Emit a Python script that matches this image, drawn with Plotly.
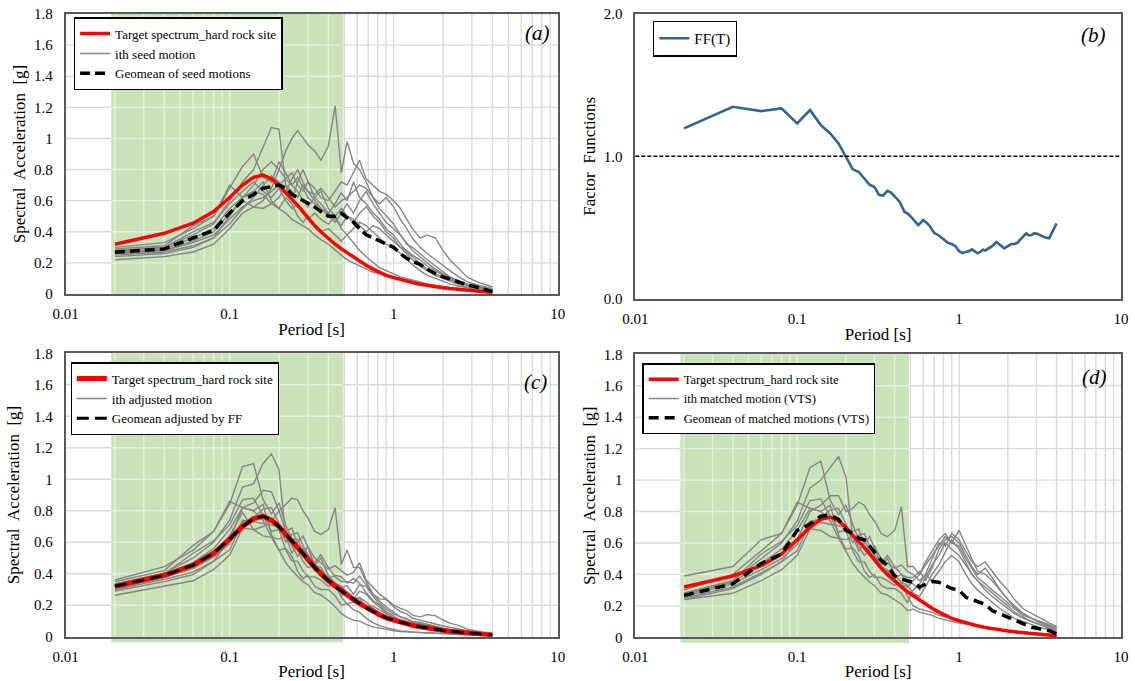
import plotly.graph_objects as go

# ---------------- data ----------------
PERIODS = [0.02, 0.04, 0.06, 0.08, 0.10, 0.12, 0.14, 0.16, 0.18, 0.20,
           0.22, 0.24, 0.26, 0.28, 0.30, 0.33, 0.36, 0.40, 0.44, 0.48,
           0.52, 0.57, 0.62, 0.68, 0.75, 0.82, 0.90, 1.0, 1.1, 1.2,
           1.3, 1.45, 1.6, 1.8, 2.0, 2.2, 2.5, 2.8, 3.2, 3.6, 4.0]

TARGET = [0.32, 0.39, 0.455, 0.53, 0.62, 0.70, 0.75, 0.765, 0.74, 0.70,
          0.65, 0.61, 0.57, 0.53, 0.49, 0.44, 0.40, 0.355, 0.32, 0.29,
          0.265, 0.235, 0.21, 0.185, 0.16, 0.14, 0.12, 0.105, 0.092, 0.082,
          0.073, 0.063, 0.055, 0.047, 0.04, 0.035, 0.03, 0.025, 0.02, 0.015, 0.01]

SEED_MOTIONS = [
    [0.24, 0.26, 0.30, 0.36, 0.50, 0.62, 0.70, 0.80, 0.85, 0.80, 0.92, 1.00, 1.05, 1.00, 0.96, 0.92, 0.86, 0.95, 1.21, 0.78,
     0.98, 0.84, 0.80, 0.72, 0.62, 0.55, 0.50, 0.45, 0.38, 0.33, 0.28, 0.24, 0.20, 0.16, 0.13, 0.11, 0.08, 0.06, 0.05, 0.04, 0.03],
    [0.28, 0.30, 0.38, 0.45, 0.60, 0.72, 0.80, 0.95, 1.07, 1.06, 0.70, 0.60, 0.72, 0.80, 0.72, 0.62, 0.66, 0.55, 0.50, 0.42,
     0.38, 0.33, 0.28, 0.24, 0.20, 0.17, 0.15, 0.13, 0.11, 0.10, 0.09, 0.075, 0.065, 0.055, 0.045, 0.04, 0.032, 0.027, 0.022, 0.018, 0.014],
    [0.30, 0.33, 0.42, 0.50, 0.68, 0.82, 0.90, 0.75, 0.72, 0.85, 0.78, 0.70, 0.75, 0.68, 0.62, 0.58, 0.55, 0.52, 0.58, 0.65,
     0.60, 0.72, 0.62, 0.58, 0.52, 0.48, 0.42, 0.38, 0.32, 0.27, 0.24, 0.20, 0.16, 0.13, 0.11, 0.09, 0.07, 0.055, 0.045, 0.035, 0.025],
    [0.26, 0.28, 0.33, 0.38, 0.48, 0.56, 0.60, 0.62, 0.66, 0.70, 0.74, 0.78, 0.70, 0.66, 0.72, 0.68, 0.62, 0.60, 0.66, 0.72,
     0.70, 0.78, 0.86, 0.74, 0.70, 0.66, 0.64, 0.60, 0.55, 0.48, 0.42, 0.36, 0.38, 0.36, 0.28, 0.22, 0.16, 0.11, 0.08, 0.06, 0.045],
    [0.27, 0.29, 0.36, 0.42, 0.55, 0.62, 0.66, 0.64, 0.58, 0.62, 0.70, 0.66, 0.62, 0.70, 0.66, 0.64, 0.68, 0.62, 0.56, 0.60,
     0.62, 0.66, 0.70, 0.68, 0.62, 0.58, 0.62, 0.56, 0.48, 0.42, 0.36, 0.30, 0.26, 0.22, 0.18, 0.15, 0.11, 0.08, 0.06, 0.045, 0.035],
    [0.22, 0.24, 0.27, 0.32, 0.42, 0.52, 0.56, 0.55, 0.58, 0.55, 0.52, 0.48, 0.46, 0.44, 0.42, 0.38, 0.35, 0.32, 0.28, 0.25,
     0.22, 0.20, 0.18, 0.16, 0.14, 0.13, 0.12, 0.11, 0.10, 0.09, 0.08, 0.07, 0.06, 0.05, 0.045, 0.04, 0.033, 0.027, 0.022, 0.018, 0.015],
    [0.29, 0.31, 0.44, 0.50, 0.70, 0.62, 0.66, 0.72, 0.60, 0.55, 0.62, 0.58, 0.50, 0.46, 0.50, 0.44, 0.40, 0.42, 0.38, 0.34,
     0.38, 0.42, 0.46, 0.44, 0.40, 0.36, 0.32, 0.30, 0.26, 0.22, 0.19, 0.15, 0.12, 0.10, 0.08, 0.065, 0.05, 0.04, 0.03, 0.025, 0.02],
    [0.25, 0.27, 0.31, 0.36, 0.45, 0.55, 0.62, 0.70, 0.76, 0.72, 0.66, 0.74, 0.80, 0.72, 0.66, 0.60, 0.55, 0.50, 0.46, 0.52,
     0.58, 0.52, 0.60, 0.66, 0.58, 0.52, 0.46, 0.42, 0.38, 0.32, 0.30, 0.26, 0.22, 0.18, 0.14, 0.11, 0.085, 0.065, 0.05, 0.04, 0.03],
    [0.28, 0.30, 0.40, 0.46, 0.58, 0.66, 0.72, 0.66, 0.62, 0.68, 0.60, 0.55, 0.58, 0.52, 0.48, 0.52, 0.48, 0.45, 0.50, 0.55,
     0.50, 0.46, 0.52, 0.56, 0.50, 0.46, 0.40, 0.36, 0.30, 0.26, 0.22, 0.18, 0.15, 0.12, 0.10, 0.08, 0.06, 0.045, 0.035, 0.03, 0.022],
    [0.26, 0.28, 0.34, 0.40, 0.52, 0.60, 0.56, 0.60, 0.68, 0.80, 0.74, 0.70, 0.66, 0.60, 0.56, 0.62, 0.58, 0.52, 0.48, 0.44,
     0.50, 0.48, 0.44, 0.40, 0.44, 0.42, 0.38, 0.34, 0.30, 0.28, 0.25, 0.22, 0.18, 0.15, 0.12, 0.10, 0.075, 0.06, 0.045, 0.035, 0.028],
]

GEOMEAN_SEED = [0.268, 0.29, 0.36, 0.41, 0.52, 0.60, 0.64, 0.68, 0.69, 0.70,
                0.68, 0.64, 0.62, 0.60, 0.58, 0.56, 0.53, 0.50, 0.50, 0.52,
                0.49, 0.46, 0.42, 0.38, 0.36, 0.34, 0.32, 0.30, 0.26, 0.23,
                0.21, 0.19, 0.16, 0.13, 0.11, 0.095, 0.075, 0.06, 0.045, 0.03, 0.015]

FF_PERIODS = [0.02, 0.04, 0.06, 0.08, 0.10, 0.12, 0.14, 0.16, 0.18, 0.20,
              0.22, 0.24, 0.26, 0.28, 0.30, 0.32, 0.34, 0.36, 0.38, 0.40,
              0.43, 0.46, 0.48, 0.50, 0.53, 0.56, 0.60, 0.63, 0.66, 0.70,
              0.75, 0.80, 0.85, 0.90, 0.95, 1.0, 1.05, 1.1, 1.15, 1.2,
              1.25, 1.3, 1.35, 1.4, 1.45, 1.5, 1.6, 1.7, 1.8, 1.9,
              2.0, 2.1, 2.2, 2.3, 2.4, 2.5, 2.6, 2.7, 2.8, 2.9,
              3.0, 3.2, 3.4, 3.6, 3.8, 4.0]
FF_VALUES = [1.195, 1.347, 1.316, 1.335, 1.23, 1.323, 1.218, 1.16, 1.09, 1.0,
             0.91, 0.89, 0.84, 0.80, 0.785, 0.73, 0.725, 0.758, 0.745, 0.716,
             0.68, 0.61, 0.60, 0.58, 0.545, 0.518, 0.553, 0.535, 0.51, 0.464,
             0.445, 0.42, 0.395, 0.385, 0.37, 0.335, 0.322, 0.33, 0.335, 0.348,
             0.335, 0.32, 0.33, 0.345, 0.34, 0.352, 0.37, 0.40, 0.375, 0.355,
             0.37, 0.385, 0.385, 0.395, 0.42, 0.44, 0.46, 0.445, 0.448, 0.46,
             0.458, 0.445, 0.43, 0.425, 0.48, 0.53]
FF_REFERENCE = 1.0

ADJUSTED_MOTIONS = [
    [0.29, 0.35, 0.395, 0.48, 0.615, 0.82, 0.85, 0.93, 0.92, 0.80, 0.84, 0.88, 0.87, 0.80, 0.755, 0.67, 0.65, 0.68, 0.82, 0.46,
     0.55, 0.44, 0.44, 0.35, 0.27, 0.225, 0.19, 0.153, 0.125, 0.114, 0.091, 0.084, 0.074, 0.059, 0.049, 0.043, 0.035, 0.027, 0.023, 0.017, 0.016],
    [0.335, 0.404, 0.50, 0.60, 0.74, 0.95, 0.97, 1.10, 1.16, 1.06, 0.64, 0.53, 0.60, 0.64, 0.57, 0.45, 0.50, 0.39, 0.34, 0.25,
     0.21, 0.17, 0.154, 0.118, 0.088, 0.07, 0.057, 0.044, 0.036, 0.035, 0.029, 0.026, 0.024, 0.02, 0.017, 0.016, 0.014, 0.012, 0.01, 0.008, 0.007],
    [0.36, 0.445, 0.55, 0.67, 0.84, 1.08, 1.10, 0.87, 0.78, 0.85, 0.71, 0.62, 0.62, 0.54, 0.49, 0.42, 0.42, 0.37, 0.39, 0.38,
     0.34, 0.37, 0.34, 0.28, 0.23, 0.20, 0.16, 0.13, 0.106, 0.093, 0.078, 0.07, 0.059, 0.048, 0.042, 0.035, 0.031, 0.025, 0.02, 0.015, 0.013],
    [0.31, 0.377, 0.434, 0.507, 0.59, 0.74, 0.73, 0.72, 0.71, 0.70, 0.67, 0.69, 0.58, 0.53, 0.57, 0.50, 0.47, 0.43, 0.45, 0.42,
     0.39, 0.41, 0.47, 0.36, 0.31, 0.27, 0.24, 0.20, 0.18, 0.166, 0.137, 0.126, 0.14, 0.133, 0.106, 0.086, 0.07, 0.05, 0.036, 0.026, 0.024],
    [0.32, 0.39, 0.47, 0.56, 0.68, 0.82, 0.80, 0.74, 0.63, 0.62, 0.64, 0.58, 0.51, 0.56, 0.52, 0.47, 0.52, 0.44, 0.38, 0.35,
     0.35, 0.34, 0.385, 0.33, 0.27, 0.24, 0.236, 0.19, 0.16, 0.145, 0.117, 0.105, 0.096, 0.081, 0.068, 0.059, 0.048, 0.036, 0.027, 0.019, 0.019],
    [0.263, 0.323, 0.355, 0.427, 0.517, 0.69, 0.68, 0.64, 0.63, 0.55, 0.47, 0.42, 0.38, 0.35, 0.33, 0.28, 0.265, 0.23, 0.19, 0.148,
     0.123, 0.104, 0.099, 0.078, 0.062, 0.053, 0.046, 0.037, 0.033, 0.031, 0.026, 0.025, 0.022, 0.019, 0.017, 0.016, 0.015, 0.012, 0.01, 0.008, 0.008],
    [0.35, 0.42, 0.58, 0.67, 0.86, 0.82, 0.80, 0.84, 0.65, 0.55, 0.56, 0.51, 0.415, 0.37, 0.39, 0.32, 0.30, 0.30, 0.26, 0.20,
     0.21, 0.22, 0.25, 0.22, 0.18, 0.15, 0.12, 0.10, 0.086, 0.076, 0.062, 0.053, 0.044, 0.037, 0.03, 0.025, 0.022, 0.018, 0.014, 0.011, 0.011],
    [0.30, 0.364, 0.41, 0.48, 0.55, 0.73, 0.755, 0.81, 0.82, 0.72, 0.60, 0.65, 0.66, 0.58, 0.52, 0.44, 0.42, 0.36, 0.31, 0.31,
     0.325, 0.27, 0.33, 0.32, 0.255, 0.21, 0.175, 0.143, 0.125, 0.11, 0.098, 0.091, 0.081, 0.067, 0.053, 0.043, 0.037, 0.029, 0.023, 0.017, 0.016],
    [0.335, 0.40, 0.53, 0.61, 0.71, 0.87, 0.88, 0.77, 0.67, 0.68, 0.55, 0.48, 0.48, 0.42, 0.38, 0.38, 0.36, 0.32, 0.34, 0.32,
     0.28, 0.24, 0.29, 0.27, 0.22, 0.19, 0.15, 0.12, 0.10, 0.09, 0.072, 0.063, 0.056, 0.044, 0.038, 0.031, 0.026, 0.02, 0.016, 0.013, 0.012],
    [0.31, 0.377, 0.447, 0.534, 0.64, 0.79, 0.68, 0.70, 0.73, 0.80, 0.67, 0.62, 0.55, 0.48, 0.44, 0.45, 0.44, 0.37, 0.325, 0.26,
     0.28, 0.25, 0.24, 0.196, 0.194, 0.17, 0.144, 0.116, 0.10, 0.097, 0.081, 0.077, 0.067, 0.056, 0.046, 0.039, 0.033, 0.027, 0.02, 0.015, 0.015],
]

GEOMEAN_ADJUSTED = [0.32, 0.39, 0.455, 0.53, 0.62, 0.70, 0.75, 0.765, 0.74, 0.70,
                    0.65, 0.61, 0.57, 0.53, 0.49, 0.44, 0.40, 0.355, 0.32, 0.29,
                    0.265, 0.235, 0.21, 0.185, 0.16, 0.14, 0.12, 0.105, 0.092, 0.082,
                    0.073, 0.063, 0.055, 0.047, 0.04, 0.035, 0.03, 0.025, 0.02, 0.015, 0.01]

MATCHED_MOTIONS = [
    [0.24, 0.31, 0.40, 0.48, 0.62, 0.80, 0.84, 0.90, 0.90, 0.80, 0.82, 0.86, 0.84, 0.78, 0.74, 0.66, 0.64, 0.68, 0.83, 0.45,
     0.45, 0.40, 0.48, 0.55, 0.62, 0.66, 0.60, 0.68, 0.58, 0.50, 0.42, 0.40, 0.36, 0.30, 0.24, 0.20, 0.15, 0.12, 0.09, 0.07, 0.05],
    [0.28, 0.36, 0.50, 0.60, 0.74, 0.95, 1.00, 1.08, 1.15, 1.02, 0.64, 0.55, 0.60, 0.64, 0.57, 0.46, 0.50, 0.40, 0.35, 0.26,
     0.20, 0.18, 0.17, 0.16, 0.14, 0.13, 0.12, 0.10, 0.09, 0.08, 0.07, 0.06, 0.055, 0.05, 0.04, 0.035, 0.03, 0.025, 0.02, 0.015, 0.01],
    [0.30, 0.40, 0.55, 0.66, 0.84, 1.08, 1.12, 0.87, 0.78, 0.84, 0.72, 0.62, 0.62, 0.55, 0.50, 0.43, 0.42, 0.38, 0.40, 0.38,
     0.38, 0.42, 0.36, 0.44, 0.56, 0.62, 0.64, 0.60, 0.52, 0.45, 0.40, 0.44, 0.38, 0.30, 0.24, 0.19, 0.15, 0.12, 0.10, 0.08, 0.06],
    [0.26, 0.34, 0.43, 0.50, 0.59, 0.74, 0.73, 0.72, 0.71, 0.70, 0.67, 0.69, 0.58, 0.54, 0.58, 0.50, 0.47, 0.44, 0.46, 0.42,
     0.40, 0.36, 0.40, 0.50, 0.60, 0.58, 0.66, 0.62, 0.55, 0.48, 0.45, 0.48, 0.42, 0.35, 0.30, 0.24, 0.18, 0.15, 0.12, 0.09, 0.07],
    [0.27, 0.35, 0.47, 0.56, 0.68, 0.82, 0.80, 0.74, 0.63, 0.62, 0.64, 0.58, 0.52, 0.56, 0.52, 0.47, 0.52, 0.45, 0.40, 0.35,
     0.34, 0.30, 0.38, 0.46, 0.52, 0.60, 0.56, 0.52, 0.46, 0.40, 0.36, 0.32, 0.28, 0.24, 0.20, 0.16, 0.13, 0.10, 0.08, 0.06, 0.04],
    [0.24, 0.28, 0.36, 0.43, 0.52, 0.69, 0.68, 0.64, 0.63, 0.55, 0.47, 0.42, 0.38, 0.35, 0.33, 0.28, 0.27, 0.24, 0.21, 0.17,
     0.18, 0.16, 0.15, 0.14, 0.12, 0.11, 0.10, 0.09, 0.085, 0.075, 0.065, 0.055, 0.05, 0.045, 0.038, 0.032, 0.027, 0.022, 0.018, 0.014, 0.01],
    [0.39, 0.45, 0.62, 0.66, 0.86, 0.82, 0.80, 0.84, 0.65, 0.56, 0.57, 0.52, 0.42, 0.38, 0.40, 0.33, 0.31, 0.31, 0.28, 0.22,
     0.30, 0.34, 0.40, 0.36, 0.42, 0.48, 0.52, 0.48, 0.40, 0.34, 0.30, 0.26, 0.22, 0.18, 0.15, 0.12, 0.10, 0.08, 0.06, 0.05, 0.03],
    [0.25, 0.32, 0.41, 0.48, 0.55, 0.73, 0.76, 0.81, 0.82, 0.72, 0.60, 0.65, 0.66, 0.58, 0.52, 0.45, 0.43, 0.37, 0.33, 0.32,
     0.36, 0.40, 0.46, 0.52, 0.58, 0.64, 0.60, 0.58, 0.50, 0.44, 0.38, 0.34, 0.30, 0.26, 0.22, 0.18, 0.14, 0.12, 0.10, 0.08, 0.06],
    [0.28, 0.36, 0.53, 0.61, 0.71, 0.87, 0.88, 0.77, 0.67, 0.68, 0.55, 0.48, 0.48, 0.42, 0.38, 0.38, 0.36, 0.33, 0.35, 0.33,
     0.28, 0.26, 0.32, 0.40, 0.46, 0.54, 0.62, 0.56, 0.48, 0.40, 0.36, 0.30, 0.26, 0.22, 0.18, 0.15, 0.12, 0.10, 0.08, 0.06, 0.04],
]

GEOMEAN_MATCHED = [0.266, 0.34, 0.47, 0.53, 0.68, 0.72, 0.77, 0.776, 0.75, 0.68,
                   0.66, 0.63, 0.62, 0.58, 0.54, 0.49, 0.457, 0.39, 0.37, 0.36,
                   0.35, 0.32, 0.335, 0.355, 0.35, 0.33, 0.31, 0.30, 0.255, 0.24,
                   0.225, 0.21, 0.17, 0.15, 0.127, 0.11, 0.085, 0.064, 0.053, 0.042, 0.021]

TARGET_RANGE = [0.019, 0.49]   # shaded period band

X_TICK_LABELS = ["0.01", "0.1", "1", "10"]
SA_GRID_STEP = 0.2
SA_MAX = 1.8

# ---------------- styling ----------------
FONT = "Liberation Serif, Times New Roman, Times, serif"
RED = "#ff0000"
GRAY = "#858585"
BLACK = "#000000"
BLUE = "#2f6496"
GREEN = "#c9e2b9"
GRID = "#d9d9d9"
GRID_ON_BAND = "#e6f1df"
AXIS = "#595959"

fig = go.Figure()


def line(x, y, n, name, color, width, dash=None, show=False, rank=1000):
    ax = "" if n == 1 else str(n)
    fig.add_trace(go.Scatter(
        x=x, y=y, mode="lines", xaxis="x" + ax, yaxis="y" + ax,
        legend="legend" + ax, name=name, showlegend=show, legendrank=rank,
        legendgroup=name + ax,
        line=dict(color=color, width=width, dash=dash),
        hoverinfo="skip"))


# panel (a)
for i, s in enumerate(SEED_MOTIONS):
    line(PERIODS, s, 1, "ith seed motion", GRAY, 1.4, show=(i == 0), rank=2)
line(PERIODS, TARGET, 1, "Target spectrum_hard rock site", RED, 3.5, show=True, rank=1)
line(PERIODS, GEOMEAN_SEED, 1, "Geomean of seed motions", BLACK, 3.5, dash="10px,5px", show=True, rank=3)

# panel (b)
line(FF_PERIODS, FF_VALUES, 2, "FF(T)", BLUE, 2.6, show=True, rank=1)

# panel (c)
for i, s in enumerate(ADJUSTED_MOTIONS):
    line(PERIODS, s, 3, "ith adjusted motion", GRAY, 1.4, show=(i == 0), rank=2)
line(PERIODS, TARGET, 3, "Target spectrum_hard rock site", RED, 5, show=True, rank=1)
line(PERIODS, GEOMEAN_ADJUSTED, 3, "Geomean adjusted by FF", BLACK, 3, dash="12px,6px", show=True, rank=3)

# panel (d)
for i, s in enumerate(MATCHED_MOTIONS):
    line(PERIODS, s, 4, "ith matched motion (VTS)", GRAY, 1.4, show=(i == 0), rank=2)
line(PERIODS, TARGET, 4, "Target spectrum_hard rock site", RED, 3.5, show=True, rank=1)
line(PERIODS, GEOMEAN_MATCHED, 4, "Geomean of matched motions (VTS)", BLACK, 3.5, dash="10px,6px", show=True, rank=3)

# log grid positions (decades + minor)
grid_vals, grid_text = [], []
for e in (-2, -1, 0):
    for k in range(1, 10):
        grid_vals.append(k * 10 ** e)
        grid_text.append(X_TICK_LABELS[e + 2] if k == 1 else "")
grid_vals.append(10)
grid_text.append(X_TICK_LABELS[3])

X_DOM_L = [65.5 / 1135, 557.7 / 1135]
X_DOM_R = [635.3 / 1135, 1121 / 1135]
Y_DOMS = {
    1: [1 - 294 / 681, 1 - 14 / 681],
    2: [1 - 299 / 681, 1 - 13.5 / 681],
    3: [1 - 636.7 / 681, 1 - 353.3 / 681],
    4: [1 - 637.3 / 681, 1 - 354.3 / 681],
}

tickfont = dict(family=FONT, size=15, color="#000")
titlefont = dict(family=FONT, size=17, color="#000")

layout = dict(
    width=1135, height=681,
    margin=dict(l=0, r=0, t=0, b=0, pad=0, autoexpand=False),
    paper_bgcolor="white", plot_bgcolor="white",
    font=dict(family=FONT, color="#000"),
)

for n in (1, 2, 3, 4):
    ax = "" if n == 1 else str(n)
    is_ff = n == 2
    layout["xaxis" + ax] = dict(
        type="log", range=[-2, 1],
        domain=X_DOM_L if n in (1, 3) else X_DOM_R,
        anchor="y" + ax, automargin=False,
        tickmode="array",
        tickvals=[0.01, 0.1, 1, 10], ticktext=X_TICK_LABELS,
        showgrid=False,
        showline=True, linecolor=AXIS, linewidth=1.6, mirror=True,
        ticks="", ticklabelstandoff=5, tickfont=tickfont,
        zeroline=False,
        title=dict(text="Period [s]", font=titlefont, standoff=2),
    )
    if is_ff:
        yax = dict(range=[0, 2], tickmode="array", tickvals=[0, 1, 2],
                   ticktext=["0.0", "1.0", "2.0"],
                   title=dict(text="Factor\u00a0 Functions", font=titlefont, standoff=4))
    else:
        yax = dict(range=[0, SA_MAX], tick0=0, dtick=SA_GRID_STEP,
                   title=dict(text="Spectral\u00a0 Acceleration\u00a0 [g]", font=titlefont,
                              standoff=4 if n != 3 else 10))
    yax.update(domain=Y_DOMS[n], anchor="x" + ax, showline=True, linecolor=AXIS,
               linewidth=1.6, mirror=True, ticks="", ticklabelstandoff=8, showgrid=False,
               tickfont=tickfont, zeroline=False, automargin=False)
    layout["yaxis" + ax] = yax

legend_pos = {1: (73.8, 17.3), 2: (653, 20.7), 3: (70.5, 362.3), 4: (642.4, 363.3)}
for n, (lx, ly) in legend_pos.items():
    key = "legend" if n == 1 else "legend%d" % n
    layout[key] = dict(
        x=lx / 1135, y=1 - ly / 681, xanchor="left", yanchor="top",
        bgcolor="white", bordercolor="#000", borderwidth=1.3,
        font=dict(family=FONT, size=15 if n == 2 else (12.5 if n == 4 else 13), color="#000"),
        tracegroupgap=3, itemwidth=30, traceorder="normal",
    )

# grid lines + shaded band, all beneath the curves
shapes = []
inner_vlines = [v for v in grid_vals if 0.01 < v < 10]
band_vlines = [v for v in inner_vlines if TARGET_RANGE[0] < v < TARGET_RANGE[1]]
n_hgrid = int(round(SA_MAX / SA_GRID_STEP))
hgrid = [j * SA_GRID_STEP for j in range(1, n_hgrid)]
for n in (1, 3, 4):
    ax = "" if n == 1 else str(n)
    xr, yr, yd = "x" + ax, "y" + ax, "y" + ax + " domain"
    for v in inner_vlines:
        shapes.append(dict(type="line", xref=xr, yref=yd, x0=v, x1=v, y0=0, y1=1,
                           layer="below", line=dict(color=GRID, width=1.4)))
    for yv in hgrid:
        shapes.append(dict(type="line", xref=xr + " domain", yref=yr, x0=0, x1=1, y0=yv, y1=yv,
                           layer="below", line=dict(color=GRID, width=1.4)))
    shapes.append(dict(type="rect", xref=xr, yref=yd,
                       x0=TARGET_RANGE[0], x1=TARGET_RANGE[1],
                       y0=0 if n == 1 else -0.02, y1=1,
                       fillcolor=GREEN, line=dict(width=0), layer="below"))
    for v in band_vlines:
        shapes.append(dict(type="line", xref=xr, yref=yd, x0=v, x1=v, y0=0, y1=1,
                           layer="below", line=dict(color=GRID_ON_BAND, width=1.4)))
    for yv in hgrid:
        shapes.append(dict(type="line", xref=xr, yref=yr,
                           x0=TARGET_RANGE[0], x1=TARGET_RANGE[1], y0=yv, y1=yv,
                           layer="below", line=dict(color=GRID_ON_BAND, width=1.4)))
shapes.append(dict(type="line", xref="x2 domain", yref="y2", x0=0, x1=1,
                   y0=FF_REFERENCE, y1=FF_REFERENCE,
                   line=dict(color=BLACK, width=1.6, dash="4px,2px"), layer="above"))
layout["shapes"] = shapes

label_pos = {1: ("(a)", 0.958, 0.932), 2: ("(b)", 0.944, 0.925),
             3: ("(c)", 0.954, 0.899), 4: ("(d)", 0.946, 0.92)}
annotations = []
for n, (txt, ax_x, ax_y) in label_pos.items():
    ax = "" if n == 1 else str(n)
    annotations.append(dict(text="<i>%s</i>" % txt, xref="x" + ax + " domain",
                            yref="y" + ax + " domain", x=ax_x, y=ax_y,
                            xanchor="center", yanchor="middle", showarrow=False,
                            font=dict(family=FONT, size=21, color="#000")))
layout["annotations"] = annotations

fig.update_layout(**layout)
fig.write_html("out.html", config={"displayModeBar": False},
               post_script="document.body.style.margin='0px';document.body.style.padding='0px';")
